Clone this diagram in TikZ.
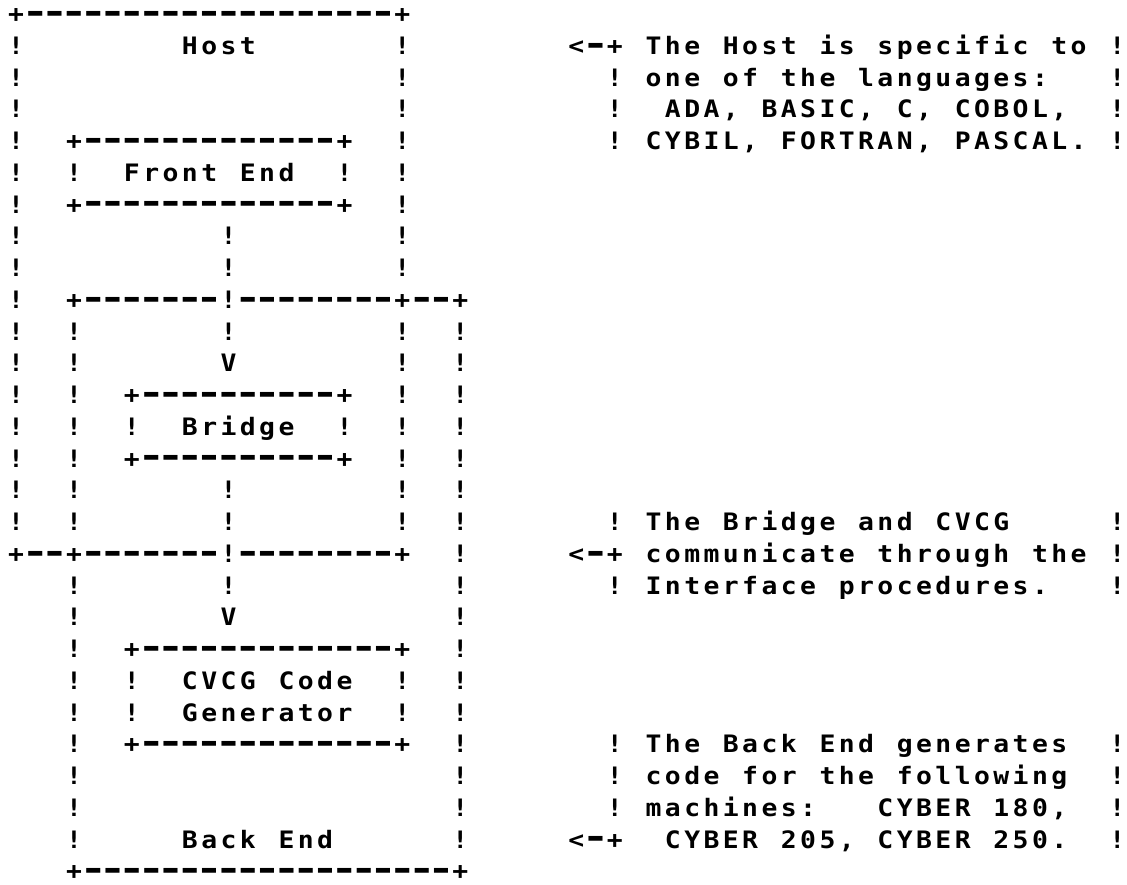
\documentclass[tikz,border=0pt]{standalone}
\usepackage{fontspec}
\usepackage{graphicx}
\newfontfamily\twfont{DejaVu Sans Mono}
\makeatletter
\newcount\pl@c
\def\pl@end{PLEND}
\newcommand\pline[3]{\def\pl@row{#1}\pl@c=#2\relax\pl@next#3\pl@end}
\def\pl@next{\futurelet\pl@tok\pl@check}
\def\pl@check{%
  \ifx\pl@tok\pl@end\let\pl@do\pl@stop
  \else\ifx\pl@tok\@sptoken\let\pl@do\pl@space
  \else\let\pl@do\pl@char\fi\fi
  \pl@do}
\def\pl@stop\pl@end{}
\expandafter\def\expandafter\pl@space\space{\advance\pl@c by 1\relax\pl@next}
\def\pl@char#1{\pl@put{#1}\advance\pl@c by 1\relax\pl@next}
\def\pl@put#1{\ifx-#1\def\pl@txt{\dashglyph}\else\def\pl@txt{\letterglyph{#1}}\fi
  \node[glyph] at ({16+19.32*\the\pl@c},{22.5+31.75*(\pl@row-1)}) {\pl@txt};}
\makeatother
\newcommand\dashglyph{\raisebox{-0.4pt}{\scalebox{1.9}[1.4]{-}}}
\newcommand\letterglyph[1]{\scalebox{1.1}[1]{#1}}
\tikzset{glyph/.style={anchor=base,inner sep=0pt,outer sep=0pt,
  font=\twfont\bfseries\fontsize{12}{14}\selectfont}}
\begin{document}
\begin{tikzpicture}[x=0.5pt,y=-0.5pt]
\fill[white] (0,0) rectangle (1127,884);
\useasboundingbox (0,0) rectangle (1127,884);
% rows 1-9 : Host
\pline{1}{0}{+-------------------+}
\pline{2}{0}{!} \pline{2}{9}{Host} \pline{2}{20}{!}
\pline{2}{29}{<-+ The Host is specific to !}
\pline{3}{0}{!} \pline{3}{20}{!} \pline{3}{31}{! one of the languages:} \pline{3}{57}{!}
\pline{4}{0}{!} \pline{4}{20}{!} \pline{4}{31}{!} \pline{4}{34}{ADA, BASIC, C, COBOL,} \pline{4}{57}{!}
\pline{5}{0}{!} \pline{5}{3}{+-------------+} \pline{5}{20}{!} \pline{5}{31}{! CYBIL, FORTRAN, PASCAL. !}
\pline{6}{0}{!} \pline{6}{3}{!} \pline{6}{6}{Front End} \pline{6}{17}{!} \pline{6}{20}{!}
\pline{7}{0}{!} \pline{7}{3}{+-------------+} \pline{7}{20}{!}
\pline{8}{0}{!} \pline{8}{11}{!} \pline{8}{20}{!}
\pline{9}{0}{!} \pline{9}{11}{!} \pline{9}{20}{!}
% rows 10-18 : Bridge
\pline{10}{0}{!} \pline{10}{3}{+-------!--------+--+}
\pline{11}{0}{!} \pline{11}{3}{!} \pline{11}{11}{!} \pline{11}{20}{!} \pline{11}{23}{!}
\pline{12}{0}{!} \pline{12}{3}{!} \pline{12}{11}{V} \pline{12}{20}{!} \pline{12}{23}{!}
\pline{13}{0}{!} \pline{13}{3}{!} \pline{13}{6}{+----------+} \pline{13}{20}{!} \pline{13}{23}{!}
\pline{14}{0}{!} \pline{14}{3}{!} \pline{14}{6}{!} \pline{14}{9}{Bridge} \pline{14}{17}{!} \pline{14}{20}{!} \pline{14}{23}{!}
\pline{15}{0}{!} \pline{15}{3}{!} \pline{15}{6}{+----------+} \pline{15}{20}{!} \pline{15}{23}{!}
\pline{16}{0}{!} \pline{16}{3}{!} \pline{16}{11}{!} \pline{16}{20}{!} \pline{16}{23}{!}
\pline{17}{0}{!} \pline{17}{3}{!} \pline{17}{11}{!} \pline{17}{20}{!} \pline{17}{23}{!}
\pline{17}{31}{! The Bridge and CVCG} \pline{17}{57}{!}
\pline{18}{0}{+--+-------!--------+} \pline{18}{23}{!} \pline{18}{29}{<-+ communicate through the !}
% rows 19-28 : Back End
\pline{19}{3}{!} \pline{19}{11}{!} \pline{19}{23}{!} \pline{19}{31}{! Interface procedures.} \pline{19}{57}{!}
\pline{20}{3}{!} \pline{20}{11}{V} \pline{20}{23}{!}
\pline{21}{3}{!} \pline{21}{6}{+-------------+} \pline{21}{23}{!}
\pline{22}{3}{!} \pline{22}{6}{!} \pline{22}{9}{CVCG Code} \pline{22}{20}{!} \pline{22}{23}{!}
\pline{23}{3}{!} \pline{23}{6}{!} \pline{23}{9}{Generator} \pline{23}{20}{!} \pline{23}{23}{!}
\pline{24}{3}{!} \pline{24}{6}{+-------------+} \pline{24}{23}{!} \pline{24}{31}{! The Back End generates} \pline{24}{57}{!}
\pline{25}{3}{!} \pline{25}{23}{!} \pline{25}{31}{! code for the following} \pline{25}{57}{!}
\pline{26}{3}{!} \pline{26}{23}{!} \pline{26}{31}{! machines:} \pline{26}{45}{CYBER 180,} \pline{26}{57}{!}
\pline{27}{3}{!} \pline{27}{9}{Back End} \pline{27}{23}{!} \pline{27}{29}{<-+} \pline{27}{34}{CYBER 205, CYBER 250.} \pline{27}{57}{!}
\pline{28}{3}{+-------------------+}
\end{tikzpicture}
\end{document}
